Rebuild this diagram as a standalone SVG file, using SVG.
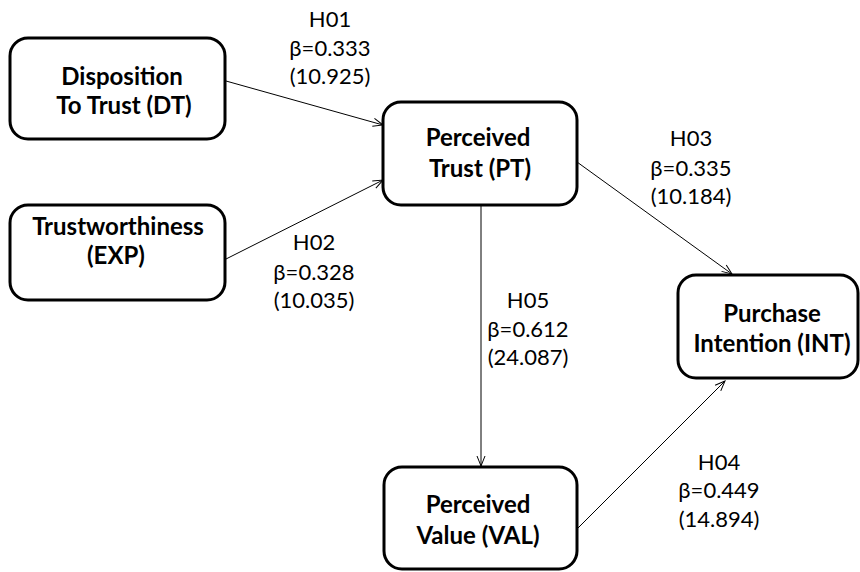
<svg xmlns="http://www.w3.org/2000/svg" width="860" height="572" viewBox="0 0 860 572">
<style>
.box{fill:#fff;stroke:#000;stroke-width:3}
.nt{font-family:Lato,"Open Sans",sans-serif;font-weight:bold;font-size:24px;fill:#000;text-anchor:middle}
.lb{font-family:Lato,"Open Sans",sans-serif;font-size:22px;fill:#000;text-anchor:middle}
.ln{stroke:#000;stroke-width:1;fill:none;marker-end:url(#ah)}
</style>
<defs>
<marker id="ah" markerWidth="12" markerHeight="10" refX="11" refY="5" orient="auto" markerUnits="userSpaceOnUse">
<path d="M1,1 L11,5 L1,9" fill="none" stroke="#000" stroke-width="1"/>
</marker>
</defs>
<rect width="860" height="572" fill="#fff"/>
<g id="connectors">
<line class="ln" x1="226" y1="81" x2="383" y2="125"/>
<line class="ln" x1="226" y1="259" x2="383" y2="180"/>
<line class="ln" x1="577" y1="162" x2="732" y2="274"/>
<line class="ln" x1="481" y1="206" x2="481" y2="466"/>
<line class="ln" x1="577" y1="529" x2="725" y2="381"/>
</g>
<g id="labels">
<text class="lb" x="330" y="27">H01</text>
<text class="lb" x="330" y="56">β=0.333</text>
<text class="lb" x="330" y="84">(10.925)</text>
<text class="lb" x="314" y="250">H02</text>
<text class="lb" x="314" y="280">β=0.328</text>
<text class="lb" x="314" y="308">(10.035)</text>
<text class="lb" x="691" y="146">H03</text>
<text class="lb" x="691" y="176">β=0.335</text>
<text class="lb" x="691" y="204">(10.184)</text>
<text class="lb" x="528" y="308">H05</text>
<text class="lb" x="528" y="337">β=0.612</text>
<text class="lb" x="528" y="365">(24.087)</text>
<text class="lb" x="719" y="470">H04</text>
<text class="lb" x="719" y="498">β=0.449</text>
<text class="lb" x="719" y="527">(14.894)</text>
</g>
<g id="DT">
<rect class="box" x="10" y="38" width="215" height="101" rx="18"/>
<text class="nt" x="122" y="85">Disposition</text>
<text class="nt" x="124" y="114">To Trust (DT)</text>
</g>
<g id="EXP">
<rect class="box" x="10" y="205" width="215" height="95" rx="18"/>
<text class="nt" x="118" y="235">Trustworthiness</text>
<text class="nt" x="116" y="264">(EXP)</text>
</g>
<g id="PT">
<rect class="box" x="383" y="102" width="194" height="103" rx="18"/>
<text class="nt" x="478" y="146">Perceived</text>
<text class="nt" x="480" y="177">Trust (PT)</text>
</g>
<g id="INT">
<rect class="box" x="678" y="275" width="180" height="103" rx="18"/>
<text class="nt" x="772" y="322">Purchase</text>
<text class="nt" x="772" y="352">Intention (INT)</text>
</g>
<g id="VAL">
<rect class="box" x="384" y="467" width="193" height="102" rx="18"/>
<text class="nt" x="478" y="513">Perceived</text>
<text class="nt" x="478" y="544">Value (VAL)</text>
</g>
</svg>
